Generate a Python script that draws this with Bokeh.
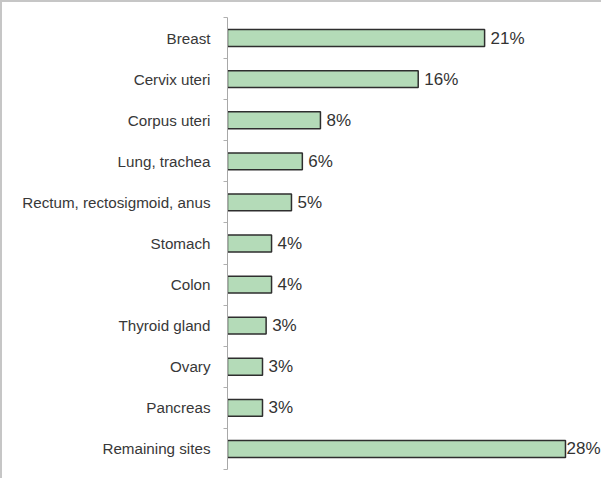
from bokeh.plotting import figure
from bokeh.models import Range1d, FixedTicker, ColumnDataSource
from bokeh.core.properties import value
from bokeh.embed import file_html
from bokeh.resources import INLINE

categories = ["Breast", "Cervix uteri", "Corpus uteri", "Lung, trachea",
              "Rectum, rectosigmoid, anus", "Stomach", "Colon", "Thyroid gland",
              "Ovary", "Pancreas", "Remaining sites"]
values = [21.3, 15.8, 7.7, 6.2, 5.3, 3.65, 3.65, 3.2, 2.9, 2.9, 28.0]
labels = ["21%", "16%", "8%", "6%", "5%", "4%", "4%", "3%", "3%", "3%", "28%"]

n = len(categories)
idx = list(range(n))
offsets = [6] * (n - 1) + [1]

src = ColumnDataSource(dict(y=idx, v=values, lab=labels, off=offsets))

p = figure(width=601, height=478, output_backend="svg", toolbar_location=None,
           x_axis_location=None,
           x_range=Range1d(0, 31.15), y_range=Range1d(n - 0.5, -0.5),
           min_border_left=225, min_border_right=0, min_border_top=15,
           min_border_bottom=11)
p.styles = {"border-top": "2px solid #c6c6c6", "border-left": "2px solid #c6c6c6"}
p.outline_line_color = None
p.xgrid.visible = False
p.ygrid.visible = False
p.background_fill_color = "white"
p.border_fill_color = "white"

p.hbar(y="y", left=0, right="v", height=0.41, source=src,
       fill_color="#b4dbb8", line_color="#2e2e2e", line_width=1.5)

p.text(x="v", y="y", text="lab", x_offset="off", source=src,
       text_font=value("Liberation Sans"), text_font_size="17px",
       text_color="#333333", text_baseline="middle", text_align="left")

ax = p.yaxis[0]
ax.ticker = FixedTicker(ticks=idx, minor_ticks=[i - 0.5 for i in range(n + 1)])
ax.major_label_overrides = {i: c for i, c in enumerate(categories)}
ax.major_tick_out = 0
ax.major_tick_in = 0
ax.minor_tick_out = 4
ax.minor_tick_in = 0
ax.minor_tick_line_color = "#b0b0b0"
ax.axis_line_color = "#a8a8a8"
ax.axis_line_width = 1
ax.major_label_standoff = 13
ax.major_label_text_font = "Liberation Sans"
ax.major_label_text_font_size = "15.2px"
ax.major_label_text_color = "#383838"

open("out.html", "w").write(file_html(p, INLINE))
